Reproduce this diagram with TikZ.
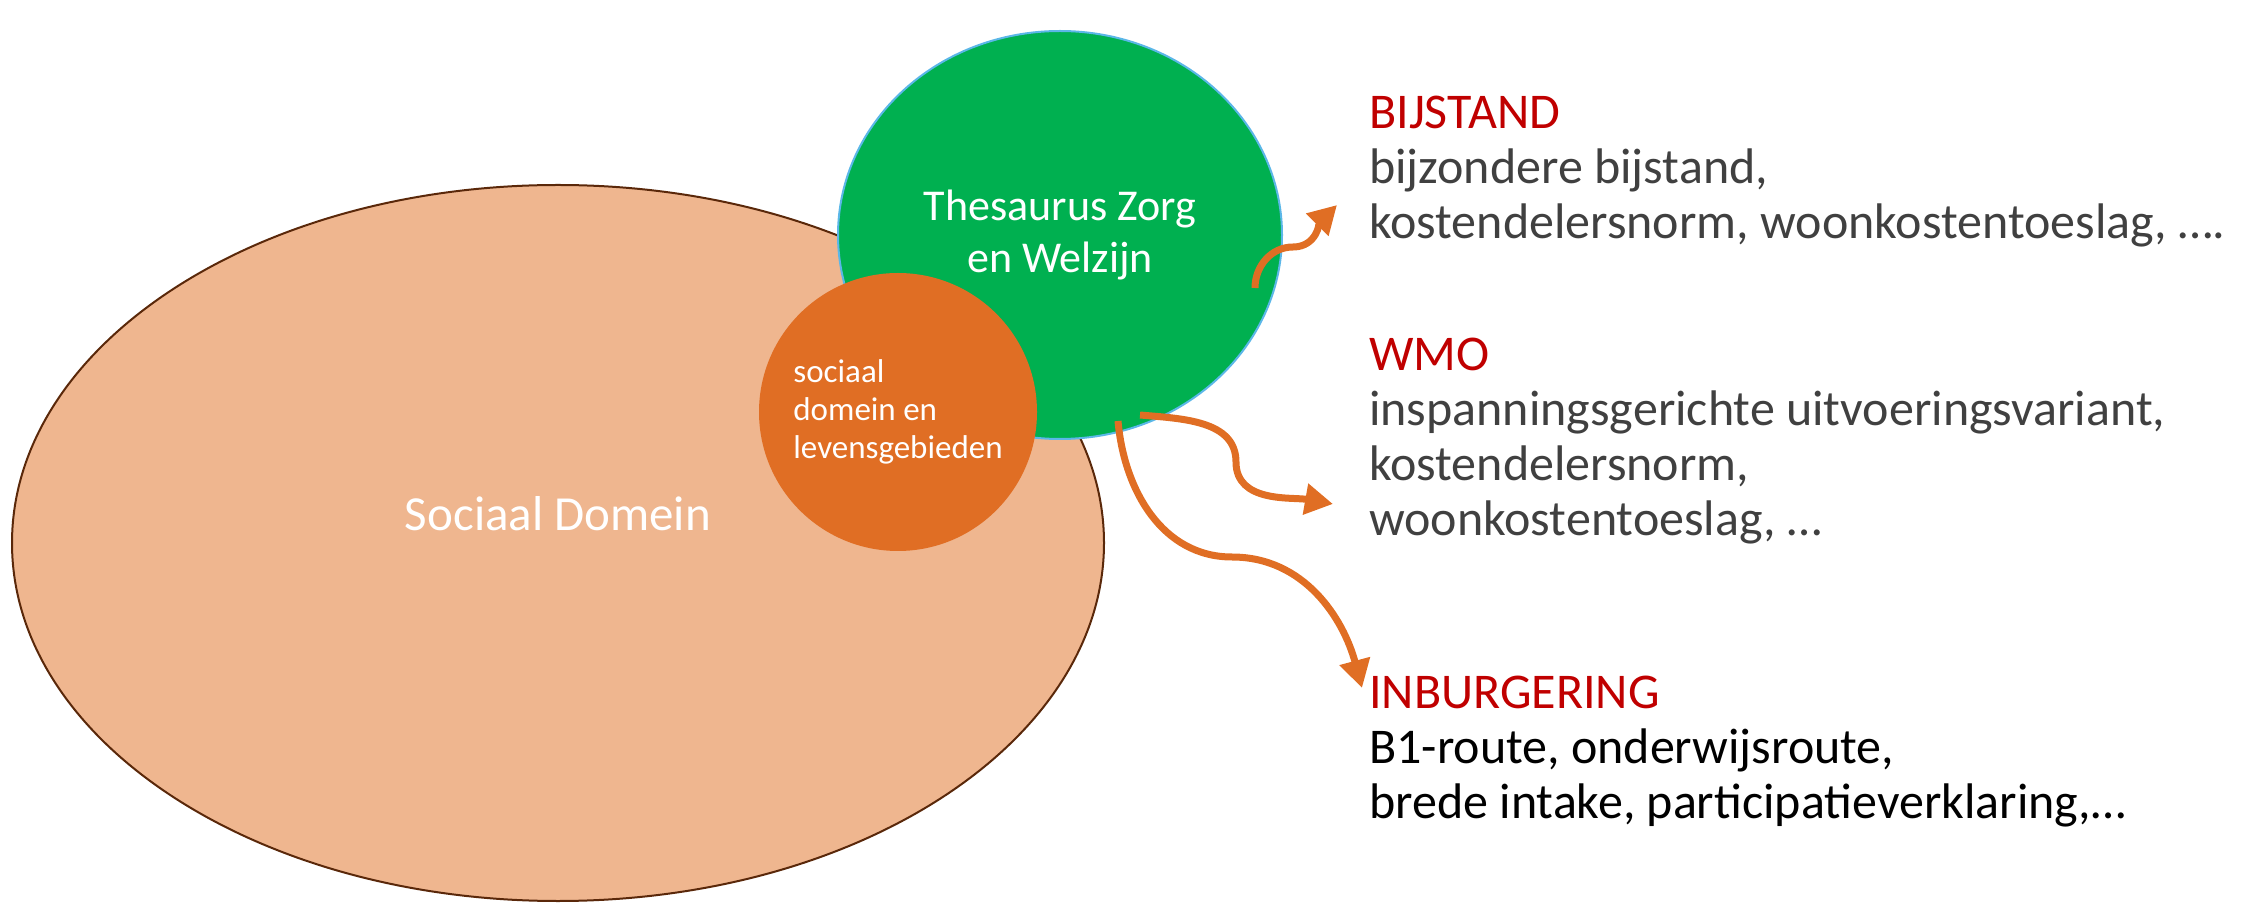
\documentclass[tikz,border=0pt]{standalone}
\usepackage{fontspec}
\setmainfont{Carlito}
\usetikzlibrary{shapes.geometric}
\usetikzlibrary{positioning}
\usetikzlibrary{arrows.meta}
\definecolor{domeinfill}{RGB}{239,182,143}
\definecolor{domeinline}{RGB}{90,40,10}
\definecolor{thesgreen}{RGB}{0,176,80}
\definecolor{thesline}{RGB}{91,183,232}
\definecolor{levorange}{RGB}{224,110,36}
\definecolor{kopred}{RGB}{192,0,0}
\definecolor{bodygray}{RGB}{64,64,64}
\tikzset{x=1pt, y=1pt,
    every node/.style={inner sep=0pt},
    domein/.style={
        ellipse,
        draw=domeinline, line width=2pt,
        fill=domeinfill,
        minimum width=1092pt, minimum height=716pt},
    thesaurus/.style={
        ellipse,
        draw=thesline, line width=2pt,
        fill=thesgreen,
        minimum width=444pt, minimum height=408pt,
        text=white, align=center,
        font=\fontsize{44}{52}\selectfont},
    leven/.style={
        circle,
        fill=levorange,
        minimum size=278pt,
        text=white, align=left,
        font=\fontsize{33}{38}\selectfont},
    groep/.style={
        anchor=base west, align=left,
        text=bodygray,
        font=\fontsize{50}{55}\selectfont},
    koppeling/.style={
        draw=levorange,
        line width=7pt,
        -{Triangle[length=28pt,width=30pt]}}}

\begin{document}
\begin{tikzpicture}
        \useasboundingbox (0,0) rectangle (2259,903);

        \node[domein] (domein) at (558,360) {};
        \node[text=white, font=\fontsize{49}{52}\selectfont] (domeintxt) at (558,389) {Sociaal Domein};
        \node[thesaurus] (thes) at (1060,668) {Thesaurus Zorg\\en Welzijn};
        \node[leven] (leven) at (898,491) {sociaal\\domein en\\levensgebieden};

        % base = baseline of the last line
        \node[groep] (bijstand) at (1369,664) {\textcolor{kopred}{BIJSTAND}\\bijzondere bijstand,\\kostendelersnorm, woonkostentoeslag, ….};
        \node[groep] (wmo) at (1369,367) {\textcolor{kopred}{WMO}\\inspanningsgerichte uitvoeringsvariant,\\kostendelersnorm,\\woonkostentoeslag, …};
        \node[groep, text=black] (inburgering) at (1369,85) {\textcolor{kopred}{INBURGERING}\\B1-route, onderwijsroute,\\brede intake, participatieverklaring,…};

        % arrows from the thesaurus
        \coordinate (b1s) at (1255,615);
        \coordinate (b1m) at (1293,656);
        \coordinate (b1t) at (1337,698);
        \coordinate (w1s) at (1140,488);
        \coordinate (w1m) at (1236,441);
        \coordinate (w1t) at (1333,399);
        \coordinate (i1s) at (1118,482);
        \coordinate (i1m) at (1232,346);
        \coordinate (i1t) at (1362,215);

        \draw[koppeling] (b1s) to[out=90,in=180] (b1m) to[out=0,in=225] (b1t);
        \draw[koppeling] (w1s) to[out=-5,in=90] (w1m) to[out=-90,in=170] (w1t);
        \draw[koppeling] (i1s) to[out=-85,in=180] (i1m) to[out=0,in=105] (i1t);
    \end{tikzpicture}
\end{document}
